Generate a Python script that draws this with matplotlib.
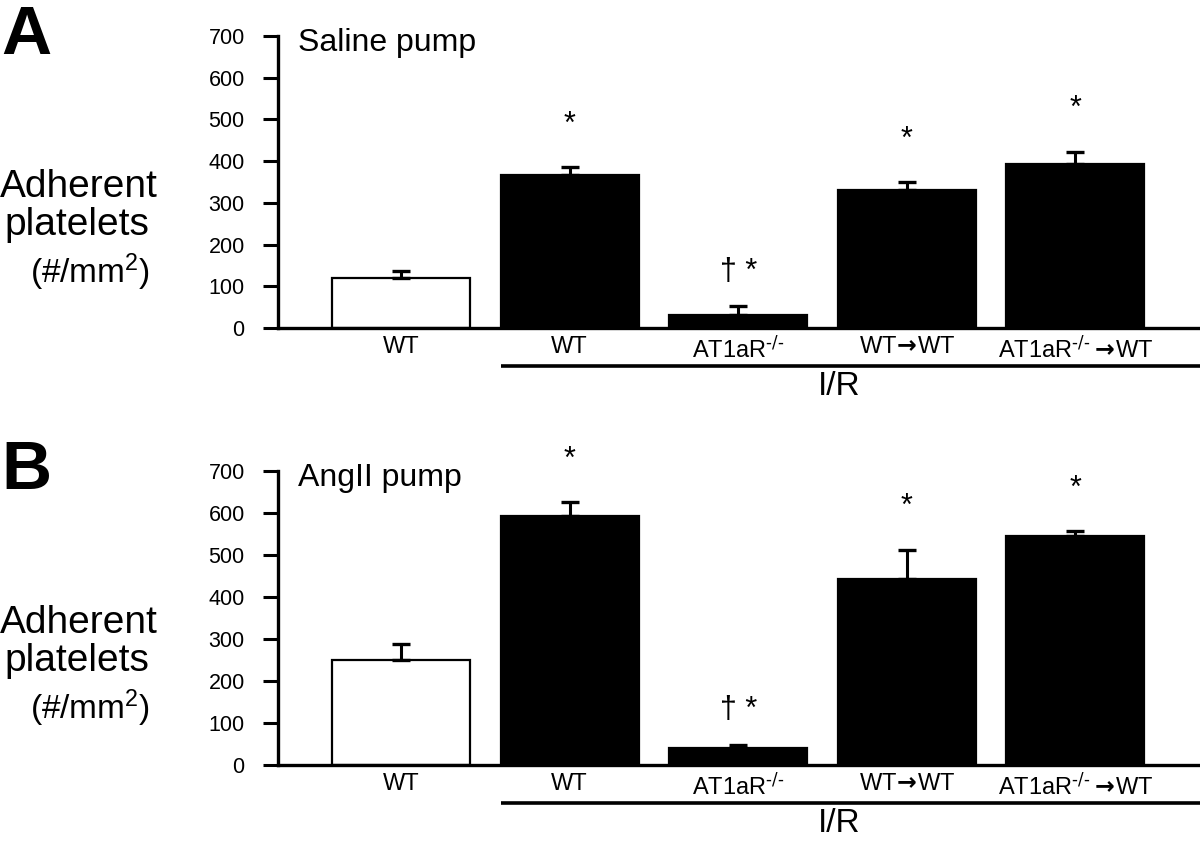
import numpy as np
import matplotlib.pyplot as plt

plt.rcParams['font.family'] = ['Liberation Sans', 'DejaVu Sans']
plt.rcParams['mathtext.default'] = 'regular'

groups = ['WT', 'WT', r'AT1aR$^{\text{-/-}}$', r'WT$\!\mathbf{\rightarrow}\!$WT',
          r'AT1aR$^{\text{-/-}}\mathbf{\rightarrow}\!$WT']
bar_colors = ['white', 'black', 'black', 'black', 'black']

saline_mean = [120, 368, 30, 332, 393]
saline_err = [17, 18, 22, 17, 30]
saline_marks = ['', '*', '† *', '*', '*']

angii_mean = [250, 592, 40, 443, 545]
angii_err = [37, 33, 7, 70, 11]
angii_marks = ['', '*', '† *', '*', '*']

panels = [('A', 'Saline pump', saline_mean, saline_err, saline_marks),
          ('B', 'AngII pump', angii_mean, angii_err, angii_marks)]

narrow = ['Liberation Sans Narrow', 'Liberation Sans', 'DejaVu Sans']

fig = plt.figure(figsize=(12, 8.48), dpi=100)
axes = [fig.add_axes([0.2317, 0.6132, 0.7683, 0.3443]),
        fig.add_axes([0.2317, 0.0979, 0.7683, 0.3467])]

x = np.arange(len(groups))
for ax, (letter, title, mean, err, marks) in zip(axes, panels):
    ax.bar(x, mean, width=0.82, color=bar_colors, edgecolor='black', linewidth=1.6, zorder=2)
    ax.errorbar(x, mean, yerr=[np.zeros(len(err)), err], fmt='none', ecolor='black',
                elinewidth=2.2, capsize=6.5, capthick=2.4, zorder=3)
    for xi, m, e, s in zip(x, mean, err, marks):
        if s:
            ax.text(xi, m + e + 82 if s == '*' else m + e + 64, s, ha='center', va='baseline',
                    fontsize=22, family=['Liberation Sans', 'DejaVu Sans'], clip_on=False)

    ax.set_xlim(-0.73, 4.74)
    ax.set_ylim(0, 700)
    ax.set_yticks(np.arange(0, 701, 100))
    ax.set_xticks(x)
    ax.set_xticklabels(groups, family=narrow, fontsize=17)
    ax.tick_params(axis='x', length=0, pad=6)
    ax.tick_params(axis='y', direction='out', length=11, width=2.2, pad=13, labelsize=15.5)
    for sp in ['top', 'right']:
        ax.spines[sp].set_visible(False)
    ax.spines['left'].set_linewidth(2.4)
    ax.spines['bottom'].set_linewidth(2.4)

    ax.text(0.022, 0.975, title, transform=ax.transAxes, fontsize=23, ha='left', va='center')
    ax.text(-0.216, 0.483, 'Adherent', transform=ax.transAxes, fontsize=28, ha='center', va='center')
    ax.text(-0.218, 0.353, 'platelets', transform=ax.transAxes, fontsize=28, ha='center', va='center')
    ax.text(-0.204, 0.192, '(#/mm$^{2}$)', transform=ax.transAxes, fontsize=24, ha='center', va='center')
    ax.text(-0.273, 1.0, letter, transform=ax.transAxes, fontsize=50, fontweight='bold',
            family=narrow, ha='center', va='center')

    # I/R bracket under the treated groups
    ax.plot([0.59, 4.74], [-0.13, -0.13], transform=ax.get_xaxis_transform(),
            color='black', linewidth=2.6, clip_on=False, solid_capstyle='butt')
    ax.text(2.6, -0.2, 'I/R', transform=ax.get_xaxis_transform(), fontsize=24,
            family=narrow, ha='center', va='center')

fig.savefig('out.png', dpi=100)
